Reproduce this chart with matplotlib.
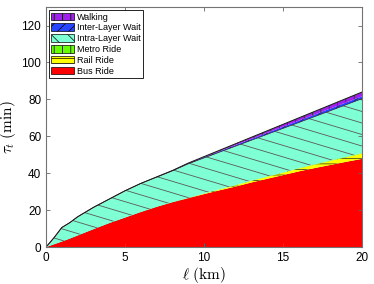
import numpy as np
import matplotlib.pyplot as plt
from matplotlib.patches import Patch

plt.rcParams['font.family'] = ['Liberation Sans', 'DejaVu Sans']
plt.rcParams['mathtext.fontset'] = 'cm'
plt.rcParams['hatch.linewidth'] = 0.5

dist = [0, 0.5, 1, 1.5, 2, 3, 4, 5, 6, 7, 8, 9, 10, 11, 12, 13, 14, 15, 16, 17, 18, 19, 20]
bus = [0, 1.5, 3, 4.6, 6.3, 9.7, 13, 16, 19, 21.8, 24.3, 26.5, 28.7, 30.8, 32.8, 35, 37, 39, 41, 42.8, 44.5, 46.2, 47.8]
rail = [0, 0, 0, 0, 0, 0, 0, 0, 0, 0, 0, 0.1, 0.3, 0.5, 0.7, 0.9, 1.1, 1.3, 1.6, 1.9, 2.2, 2.5, 2.9]
metro = [0, 0, 0, 0, 0, 0, 0, 0, 0.05, 0.05, 0.1, 0.1, 0.1, 0.15, 0.15, 0.2, 0.2, 0.2, 0.25, 0.25, 0.3, 0.3, 0.3]
intra = [0, 3.5, 7.6, 8.6, 10.1, 11.8, 13, 14.5, 15.45, 16.05, 16.9, 18.4, 19.2, 20.05, 21.05, 21.8, 22.8, 23.8, 24.65, 25.75, 26.9, 28.15, 29.4]
inter = [0, 0, 0, 0, 0, 0, 0, 0, 0, 0.1, 0.2, 0.3, 0.4, 0.5, 0.6, 0.7, 0.8, 0.9, 1.0, 1.1, 1.2, 1.25, 1.3]
walk = [0, 0, 0, 0, 0, 0, 0, 0, 0, 0, 0, 0.1, 0.3, 0.5, 0.7, 0.9, 1.1, 1.3, 1.5, 1.7, 1.9, 2.1, 2.3]

labels = ['Bus Ride', 'Rail Ride', 'Metro Ride', 'Intra-Layer Wait', 'Inter-Layer Wait', 'Walking']
colors = ['#ff0000', '#ffff00', '#66ff00', '#7fffd4', '#2846ff', '#a020f0']
hatches = [None, '---', '||', '\\\\', '///', '||']

fig = plt.figure(figsize=(3.74, 2.84), dpi=100)
ax = fig.add_axes([0.123, 0.130, 0.845, 0.845])

polys = ax.stackplot(dist, bus, rail, metro, intra, inter, walk, colors=colors, linewidth=0)
for p, h in zip(polys, hatches):
    if h is not None and h != '\\\\':
        p.set_hatch(h)
        p.set_edgecolor('0.15')
        p.set_linewidth(0)

# shallow diagonal hatch for the intra-layer wait area
clip = polys[3]
for k in range(0, 40):
    y0 = k * 0.048
    ln, = ax.plot([0, 1], [y0, y0 - 0.395], transform=ax.transAxes, color='0.35', lw=0.6)
    ln.set_clip_path(clip.get_paths()[0], ax.transData)

stack = np.cumsum(np.array([bus, rail, metro, intra, inter, walk]), axis=0)
ax.plot(dist, stack[3], color='0.15', lw=0.5)
ax.plot(dist, stack[5], color='0.1', lw=0.7)

handles = [Patch(facecolor=c, edgecolor='black', hatch=h, linewidth=0.5) for c, h in zip(colors, hatches)]
leg = ax.legend(handles[::-1], labels[::-1], loc='upper left', fontsize=6.5, fancybox=False,
                edgecolor='black', framealpha=1, borderaxespad=0.3, borderpad=0.3,
                labelspacing=0.2, handlelength=2.5, handleheight=0.9, handletextpad=0.3)
leg.get_frame().set_linewidth(0.6)

ax.set_xlim(0, 20)
ax.set_ylim(0, 130)
ax.set_xticks(np.arange(0, 21, 5))
ax.set_yticks(np.arange(0, 121, 20))
ax.tick_params(direction='in', top=True, right=True, length=3, width=0.6, color='0.4', labelsize=8.5)
for s in ax.spines.values():
    s.set_color('0.45')
    s.set_linewidth(0.8)
ax.set_xlabel(r'$\ell\ (\mathrm{km})$', fontsize=11, labelpad=1)
ax.set_ylabel(r'$\tau_t\ (\mathrm{min})$', fontsize=11, labelpad=2)

fig.savefig('out.png', dpi=100)
